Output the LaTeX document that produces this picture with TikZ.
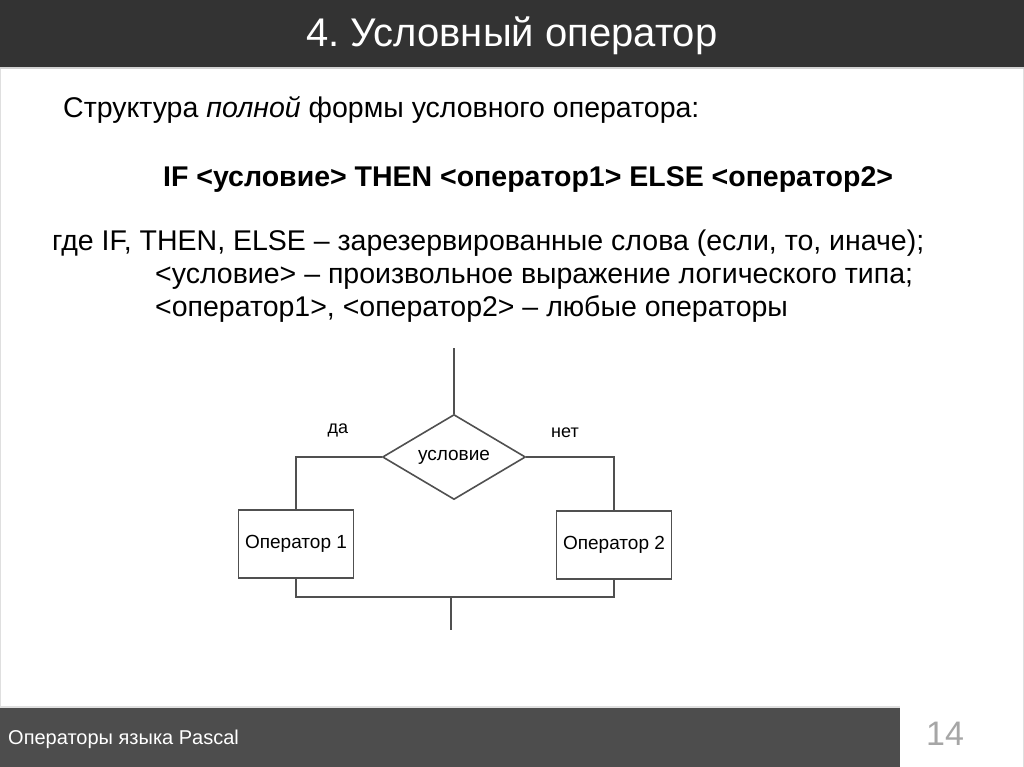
\documentclass[tikz,border=0pt]{standalone}
\usepackage{fontspec}
\setmainfont{Liberation Sans}
\usepackage{tikz}
\usetikzlibrary{shapes.geometric,positioning}
\definecolor{barTop}{HTML}{333333}
\definecolor{barBottom}{HTML}{4D4D4D}
\definecolor{flowLine}{HTML}{505050}
\newcommand{\fs}[1]{\fontsize{#1}{#1}\selectfont}
\frenchspacing

\begin{document}
\begin{tikzpicture}[x=1pt, y=-1pt,
  txt/.style={inner sep=0pt, anchor=base west, font=\fs{28.5}},
  flow/.style={draw=flowLine, line width=1.6pt},
  opbox/.style={flow, rectangle, minimum width=115pt, minimum height=68pt, inner sep=0pt, font=\fs{19}},
  cond/.style={flow, diamond, aspect=1.68, minimum width=143pt, minimum height=85pt, inner sep=0pt, font=\fs{19}}]
\useasboundingbox (0,0) rectangle (1024,767);
%%%%% Slide frame %%%%%
\fill[white] (0,0) rectangle (1024,767);
\draw[gray!25, line width=1pt] (0.5,0) -- (0.5,767) (1023.5,0) -- (1023.5,767);
\fill[barTop] (0,0) rectangle (1024,67);
\fill[gray!35] (0,67) rectangle (1024,69);
\node[inner sep=0pt, text=white, font=\fs{40}] (title) at (512,36) {4. Условный оператор};
\fill[gray!25] (0,706) rectangle (900,708);
\fill[barBottom] (0,708) rectangle (900,767);
\node[inner sep=0pt, anchor=west, text=white, font=\fs{20}] (footer) at (8,739) {Операторы языка Pascal};
\node[inner sep=0pt, text=gray!70, font=\fs{34}] (page) at (945,734) {14};
%%%%% Text %%%%%
\node[txt] (line1) at (63,118) {Структура \textit{полной} формы условного оператора:};
\node[txt, font=\fs{28.5}\bfseries] (syntax) at (163,187) {IF <условие> THEN <оператор1> ELSE <оператор2>};
\node[txt] (line3) at (52,250) {где IF, THEN, ELSE – зарезервированные слова (если, то, иначе);};
\node[txt] (line4) at (155,283) {<условие> – произвольное выражение логического типа;};
\node[txt] (line5) at (155,316) {<оператор1>, <оператор2> – любые операторы};
%%%%% Flowchart %%%%%
\coordinate (in) at (454,348);
\node[cond] (test) at (454,457) {условие};
\node[opbox] (op1) at (296,544) {Оператор 1};
\node[opbox] (op2) at (614,545) {Оператор 2};
\coordinate (join) at (451,597);
\coordinate (out) at (451,630);
\draw[flow] (in) -- (test.north);
\draw[flow] (test.west) -| (op1.north);
\draw[flow] (test.east) -| (op2.north);
\draw[flow] (op1.south) |- (join) -| (op2.south);
\draw[flow] (join) -- (out);
\node[inner sep=0pt, font=\fs{18}] (yes) at (338,430) {да};
\node[inner sep=0pt, font=\fs{18}] (no) at (565,433) {нет};
\end{tikzpicture}
\end{document}
